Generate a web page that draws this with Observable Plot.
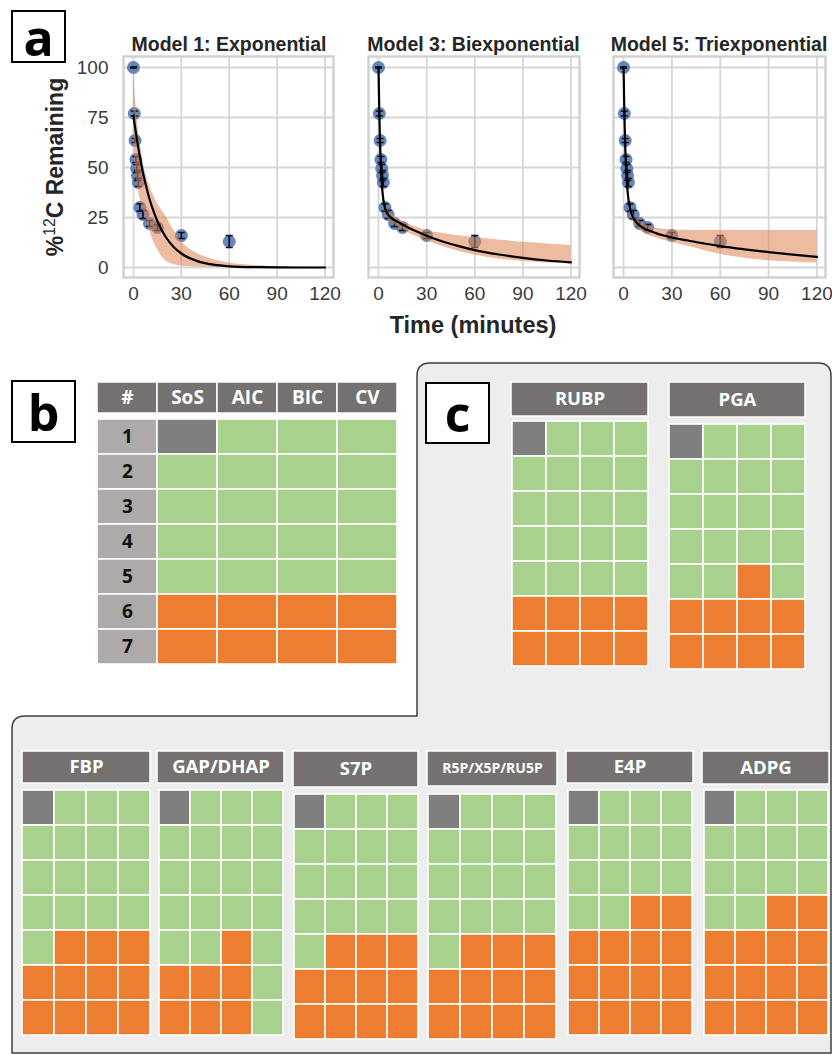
<!DOCTYPE html>
<html>
<head>
<meta charset="utf-8">
<script src="https://cdn.jsdelivr.net/npm/d3@7"></script>
<script src="https://cdn.jsdelivr.net/npm/@observablehq/plot@0.6"></script>
<style>
  body { margin: 0; background: #fff; }
  #page { position: relative; width: 832px; height: 1055px; overflow: hidden; background: #fff;
          font-family: "Liberation Sans", Arial, sans-serif; }
  .tag { position: absolute; box-sizing: border-box; border: 2.5px solid #000; background: #fff;
         font-family: "Open Sans", sans-serif; font-weight: 700; font-size: 50px; line-height: 1;
         display: flex; align-items: center; justify-content: center; color: #000; }
  .lbl { position: absolute; white-space: nowrap; font-weight: bold; color: #262626;
         transform: translate(-50%, -50%); }
  svg.decay text { font-size: 19px; font-family: "Liberation Sans", Arial, sans-serif; fill: #3b3b3b; }
</style>
</head>
<body>
<div id="page">
  <svg style="position:absolute;left:0;top:0" width="832" height="1055">
    <path d="M12,1053 L12,729 Q12,716 25,716 L417,716 L417,376 Q417,363 430,363 L818,363 Q831,363 831,376 L831,1053 Z"
          fill="#ededed" stroke="#404040" stroke-width="1.5"/>
  </svg>
  <div class="tag" style="left:11px;top:10px;width:55px;height:53px;">a</div>
  <div class="tag" style="left:11px;top:380px;width:65px;height:63px;">b</div>
  <div class="tag" style="left:425px;top:382px;width:65px;height:62px;">c</div>
</div>
<script>
// ---- Panel a: 12C washout time course and model fits ----
const timeMin      = [0, 0.5, 1, 1.5, 2, 2.5, 3, 4, 6, 10, 15, 30, 60];
const pctRemaining = [100, 77, 63.5, 54, 49.5, 46, 42.5, 30, 26.5, 22, 20, 16, 13];
const pctError     = [0.3, 1.2, 1, 1.5, 2, 2.5, 2, 1.8, 2, 1.5, 1.5, 1.5, 3];

const fitTime   = [0, 0.5, 1, 1.5, 2, 2.5, 3, 4, 5, 6, 8, 10, 12, 15, 20, 25, 30, 40, 50, 60, 75, 90, 105, 120];
const model1Fit = [76, 73, 70.2, 67.5, 64.9, 62.4, 60, 55.4, 51.2, 47.3, 40.4, 34.4, 29.4, 23.1, 15.5, 10.4, 7, 3.2, 1.4, 0.6, 0.2, 0.1, 0, 0];
const model1Lo  = [72, 62, 52, 47, 44, 41, 39, 35, 32, 29, 24, 19, 14, 9, 3.5, 1.5, 0.7, 0.2, 0, 0, 0, 0, 0, 0];
const model1Hi  = [100, 93, 87, 82, 77, 73, 69, 63, 58, 53, 46, 41, 37, 32, 26, 19, 13, 7, 4, 2.2, 1, 0.4, 0.1, 0];
const model3Fit = [100, 76.8, 60.9, 50.1, 42.8, 37.7, 34.1, 29.9, 27.6, 26.4, 24.8, 23.7, 22.8, 21.5, 19.4, 17.6, 15.9, 13, 10.7, 8.7, 6.5, 4.8, 3.5, 2.6];
const model3Lo  = [100, 75, 58.8, 48.2, 40.8, 35.6, 32, 27.8, 25.4, 24.2, 22.6, 21.4, 20.4, 19, 16.8, 15, 13.4, 10.5, 8.1, 6.2, 4.3, 3.1, 2.3, 1.8];
const model3Hi  = [100, 78.5, 63, 52, 45, 40, 36, 32, 29.8, 28.5, 26.8, 25.6, 24.6, 23.2, 21.3, 19.8, 18.5, 17, 15.9, 15, 13.8, 12.6, 11.8, 11];
const model5Fit = [100, 77, 61, 50.5, 43.2, 38, 34.3, 29.6, 26.8, 24.9, 22.5, 21, 19.9, 18.7, 17.2, 16, 15, 13.5, 12, 10.7, 9.1, 7.7, 6.4, 5.3];
const model5Lo  = [100, 75.5, 59, 48.5, 41, 35.8, 32, 27.3, 24.5, 22.6, 20.2, 18.7, 17.6, 16.4, 14.8, 13.6, 12.6, 10.6, 8.5, 6.6, 4.6, 3.4, 2.7, 2.2];
const model5Hi  = [100, 78.5, 63, 52.5, 45.3, 40.2, 36.5, 31.9, 29.2, 27.3, 24.8, 23.3, 22.2, 21, 19.8, 19.1, 18.8, 18.6, 18.5, 18.5, 18.5, 18.5, 18.5, 18.5];

const modelTitles = ["Model 1: Exponential", "Model 3: Biexponential", "Model 5: Triexponential"];
const xTicks = [0, 30, 60, 90, 120];
const yTicks = [0, 25, 50, 75, 100];

// ---- Panels b and c: model selection outcome per criterion ----
// n = not evaluated, g = accepted, o = rejected
const criteria = ["SoS", "AIC", "BIC", "CV"];
const modelNumbers = [1, 2, 3, 4, 5, 6, 7];
const overallSelection = ["nggg", "gggg", "gggg", "gggg", "gggg", "oooo", "oooo"];
const metabolites = ["RUBP", "PGA", "FBP", "GAP/DHAP", "S7P", "R5P/X5P/RU5P", "E4P", "ADPG"];
const rubpSelection = ["nggg", "gggg", "gggg", "gggg", "gggg", "oooo", "oooo"];
const pgaSelection  = ["nggg", "gggg", "gggg", "gggg", "ggog", "oooo", "oooo"];
const fbpSelection  = ["nggg", "gggg", "gggg", "gggg", "gooo", "oooo", "oooo"];
const gapSelection  = ["nggg", "gggg", "gggg", "gggg", "ggog", "ooog", "ooog"];
const s7pSelection  = ["nggg", "gggg", "gggg", "gggg", "gooo", "oooo", "oooo"];
const r5pSelection  = ["nggg", "gggg", "gggg", "gggg", "gooo", "oooo", "oooo"];
const e4pSelection  = ["nggg", "gggg", "gggg", "ggoo", "oooo", "oooo", "oooo"];
const adpgSelection = ["nggg", "gggg", "gggg", "ggoo", "oooo", "oooo", "oooo"];

// ---- layout ----
const page = document.getElementById("page");
function place(node, left, top) {
  node.style.position = "absolute";
  node.style.left = left + "px";
  node.style.top = top + "px";
  page.appendChild(node);
  return node;
}
function label(html, cx, cy, size, extra = "") {
  const d = document.createElement("div");
  d.className = "lbl";
  d.innerHTML = html;
  d.style.cssText += `left:${cx}px;top:${cy}px;font-size:${size}px;${extra}`;
  page.appendChild(d);
  return d;
}

// short horizontal stroke used as the error-bar cap
const capMark = {
  draw(context, size) {
    const w = Math.sqrt(size);
    context.moveTo(-w, 0);
    context.lineTo(w, 0);
  }
};

const observations = timeMin.map((t, i) => ({t, pct: pctRemaining[i], err: pctError[i]}));

function decayPlot(fit, lo, hi, withYAxis, frameWidth) {
  const curve = fitTime.map((t, i) => ({t, fit: fit[i], lo: lo[i], hi: hi[i]}));
  const ml = withYAxis ? 123 : 20;
  const gridStyle = {stroke: "#d6d6d6", strokeOpacity: 1, strokeWidth: 1.8};
  return Plot.plot({
    className: "decay",
    width: ml + frameWidth + 6,
    height: 322,
    marginLeft: ml, marginRight: 6, marginTop: 56, marginBottom: 45,
    style: {background: "transparent", color: "#3b3b3b", overflow: "visible"},
    x: {domain: [-6.25, 125.3], axis: null},
    y: {domain: [-5, 105.5], axis: null},
    marks: [
      Plot.gridX(xTicks, gridStyle),
      Plot.gridY(yTicks, gridStyle),
      Plot.frame({stroke: "#d0d0d0", strokeWidth: 2.4}),
      Plot.axisX(xTicks, {tickSize: 0, tickPadding: 9, label: null}),
      withYAxis ? Plot.axisY(yTicks, {tickSize: 0, tickPadding: 15, label: null}) : null,
      Plot.dot(observations, {x: "t", y: "pct", r: 6.5, fill: "#4c72b0", fillOpacity: 0.85}),
      Plot.ruleX(observations, {x: "t", y1: d => d.pct - d.err, y2: d => d.pct + d.err, stroke: "#111", strokeWidth: 1.7}),
      Plot.dot(observations, {x: "t", y: d => d.pct + d.err, symbol: capMark, r: 2, fill: "none", stroke: "#111", strokeWidth: 1.5}),
      Plot.dot(observations, {x: "t", y: d => d.pct - d.err, symbol: capMark, r: 2, fill: "none", stroke: "#111", strokeWidth: 1.5}),
      Plot.areaY(curve, {x: "t", y1: "lo", y2: "hi", fill: "#dd8452", fillOpacity: 0.55, curve: "monotone-x"}),
      Plot.line(curve, {x: "t", y: "fit", stroke: "#000", strokeWidth: 2.2, curve: "monotone-x"})
    ]
  });
}

place(decayPlot(model1Fit, model1Lo, model1Hi, true, 210), 0, 0);
place(decayPlot(model3Fit, model3Lo, model3Hi, false, 211), 348, 0);
place(decayPlot(model5Fit, model5Lo, model5Hi, false, 212), 593, 0);

const titleCenters = [229, 473.5, 719];
modelTitles.forEach((t, i) => label(t, titleCenters[i], 44, 19.5));
label("%<sup style='font-size:0.68em;font-weight:normal;vertical-align:0.55em'>12</sup>C Remaining", 55, 167, 23,
      "transform:translate(-50%,-50%) rotate(-90deg);");
label("Time (minutes)", 473, 325, 23.5);

// ---- selection grids ----
const statusScale = {domain: ["n", "g", "o", "label"], range: ["#7f7f7f", "#a9d18e", "#ed7d31", "#aeaaaa"]};
const cellFont = "'Open Sans', 'DejaVu Sans', sans-serif";

function headerStrip(labels, w, h, fontSize) {
  return Plot.plot({
    width: w, height: h, margin: 0,
    style: {background: "transparent", overflow: "visible"},
    x: {type: "band", domain: labels, padding: 0, axis: null},
    marks: [
      Plot.cell(labels, {x: d => d, fill: "#767171", stroke: "#fff", strokeWidth: 1.5}),
      Plot.text(labels, {x: d => d, text: d => d, fill: "#fff", fontSize, fontWeight: "bold", fontFamily: cellFont})
    ]
  });
}

function selectionGrid(codes, w, h, withNumbers) {
  const columns = withNumbers ? ["#", ...criteria] : criteria;
  const cells = codes.flatMap((code, i) => {
    const row = modelNumbers[i];
    const list = [...code].map((s, j) => ({row, col: criteria[j], s}));
    return withNumbers ? [{row, col: "#", s: "label"}, ...list] : list;
  });
  return Plot.plot({
    width: w, height: h, margin: 0,
    style: {background: "transparent", overflow: "visible"},
    x: {type: "band", domain: columns, padding: 0, axis: null},
    y: {type: "band", domain: modelNumbers, padding: 0, axis: null},
    color: {type: "ordinal", ...statusScale},
    marks: [
      Plot.cell(cells, {x: "col", y: "row", fill: "s", stroke: "#fff", strokeWidth: 1.6}),
      withNumbers ? Plot.text(modelNumbers, {x: () => "#", y: d => d, text: d => String(d), fill: "#111",
                                             fontSize: 19, fontWeight: "bold", fontFamily: cellFont}) : null
    ]
  });
}

// panel b
place(headerStrip(["#", ...criteria], 300, 31, 19), 97, 382);
place(selectionGrid(overallSelection, 300, 246, true), 97, 418);

// panel c
const metaboliteSelections = [rubpSelection, pgaSelection, fbpSelection, gapSelection,
                              s7pSelection, r5pSelection, e4pSelection, adpgSelection];
const gridBoxes = [
  {left: 511, top: 382, w: 137, hh: 34, gap: 4, bh: 247},
  {left: 669, top: 382, w: 136, hh: 35, gap: 5, bh: 248},
  {left: 22,  top: 751, w: 128, hh: 32, gap: 5, bh: 249},
  {left: 157, top: 751, w: 127, hh: 32, gap: 5, bh: 249},
  {left: 293, top: 751, w: 125, hh: 36, gap: 5, bh: 249},
  {left: 427, top: 751, w: 130, hh: 35, gap: 5, bh: 251},
  {left: 566, top: 751, w: 127, hh: 32, gap: 5, bh: 249},
  {left: 702, top: 751, w: 127, hh: 33, gap: 4, bh: 249}
];
metabolites.forEach((name, i) => {
  const b = gridBoxes[i];
  const fs = name.length > 8 ? 14 : 18.5;
  place(headerStrip([name], b.w, b.hh, fs), b.left, b.top);
  place(selectionGrid(metaboliteSelections[i], b.w, b.bh, false), b.left, b.top + b.hh + b.gap);
});
</script>
</body>
</html>
